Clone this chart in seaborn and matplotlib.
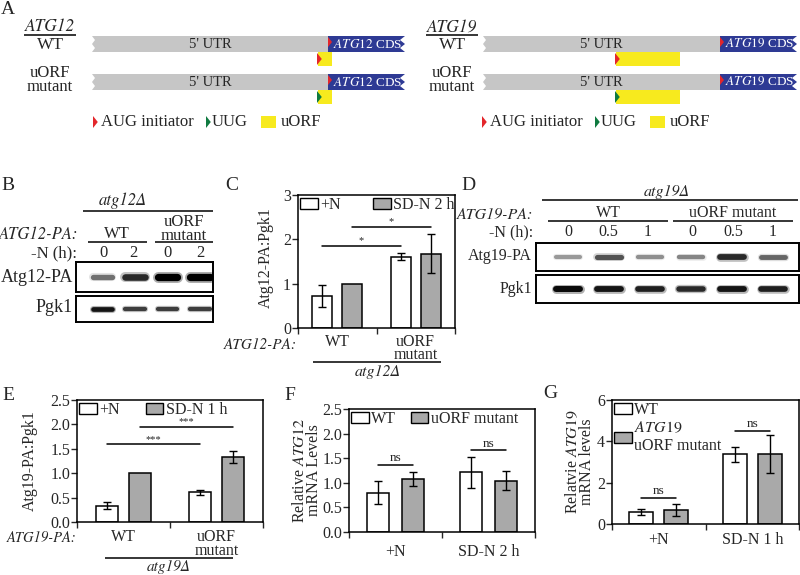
"""
Multi-panel uORF figure (ATG12 / ATG19) redrawn with seaborn + matplotlib.
"""
import matplotlib
matplotlib.use("Agg")
import matplotlib.pyplot as plt
from matplotlib.patches import Patch, Polygon, Rectangle
import pandas as pd
import seaborn as sns

W, H = 800, 575
WHITE = "#ffffff"
GRAY = "#a9a9a9"
NAVY = "#2e3a94"
UTR_GRAY = "#c6c6c6"
YELLOW = "#f7ea1e"
RED = "#e3262b"
GREEN = "#0f7a40"
ITAL = "STIXGeneral"

# ---- panel C: Atg12-PA:Pgk1 ----
C_GROUPS = ["WT", "uORF\nmutant"]
C_HUES = ["+N", "SD-N 2 h"]
C_PLUS_N = [0.72, 1.61]
C_PLUS_N_ERR = [0.25, 0.08]
C_SDN = [1.00, 1.68]
C_SDN_ERR = [0.0, 0.44]

# ---- panel E: Atg19-PA:Pgk1 ----
E_GROUPS = ["WT", "uORF\nmutant"]
E_HUES = ["+N", "SD-N 1 h"]
E_PLUS_N = [0.33, 0.61]
E_PLUS_N_ERR = [0.07, 0.05]
E_SDN = [1.00, 1.33]
E_SDN_ERR = [0.0, 0.12]

# ---- panel F: relative ATG12 mRNA ----
F_GROUPS = ["+N", "SD-N 2 h"]
F_HUES = ["WT", "uORF mutant"]
F_WT = [0.80, 1.21]
F_WT_ERR = [0.24, 0.31]
F_MUT = [1.08, 1.04]
F_MUT_ERR = [0.14, 0.19]

# ---- panel G: relative ATG19 mRNA ----
G_GROUPS = ["+N", "SD-N 1 h"]
G_HUES = ["WT", "$\\it{ATG19}$\nuORF mutant"]
G_WT = [0.60, 3.37]
G_WT_ERR = [0.15, 0.36]
G_MUT = [0.68, 3.39]
G_MUT_ERR = [0.30, 0.92]

# ---- western blot band strength (0..1) per lane ----
B_LANES = ["0", "2", "0", "2"]
B_ATG12 = [0.45, 0.8, 1.0, 1.0]
B_PGK1 = [0.9, 0.7, 0.7, 0.7]
D_LANES = ["0", "0.5", "1", "0", "0.5", "1"]
D_ATG19 = [0.25, 0.6, 0.3, 0.35, 0.8, 0.5]
D_PGK1 = [0.95, 0.9, 0.85, 0.8, 0.9, 0.85]

sns.set_theme(style="ticks")
plt.rcParams["font.family"] = ["Liberation Serif", "STIXGeneral", "DejaVu Serif"]
plt.rcParams["mathtext.fontset"] = "stix"
FS = 11

fig = plt.figure(figsize=(8, 5.75), dpi=100)
ov = fig.add_axes([0, 0, 1, 1])
ov.set_xlim(0, W)
ov.set_ylim(H, 0)
ov.axis("off")


def rect(x0, y0, x1, y1):
    return [x0 / W, 1 - y1 / H, (x1 - x0) / W, (y1 - y0) / H]


def txt(x, y, s, **kw):
    kw.setdefault("fontsize", FS)
    kw.setdefault("ha", "center")
    kw.setdefault("va", "center")
    if kw.get("style") == "italic":
        kw.setdefault("family", ITAL)
    ov.text(x, y, s, **kw)


def hline(x0, x1, y, lw=1.1):
    ov.plot([x0, x1], [y, y], color="black", lw=lw, solid_capstyle="butt")


# ---------------- panel A: schematics ----------------
GENES = ["ATG12", "ATG19"]
LABEL_X = [50, 452]
UTR_START = [92, 483]
CDS_START = [328, 720]
CDS_END = [405, 797]
UORF = [(318, 332), (616, 680)]
ROW_Y = [36, 74]
START_MARK = [RED, GREEN]
LEG_X = [93, 482]


def tri(x, y, h, color):
    ov.add_patch(Polygon([(x, y - h / 2), (x + h * 0.4, y), (x, y + h / 2)],
                         closed=True, color=color, lw=0))


for g, gene in enumerate(GENES):
    lx = LABEL_X[g]
    txt(lx, 27, gene, style="italic", fontsize=12.5)
    hline(lx - 26, lx + 26, 35)
    txt(lx, 45, "WT", fontsize=12.5)
    txt(lx, 80, "uORF\nmutant", fontsize=12, linespacing=0.8)
    for r, y0 in enumerate(ROW_Y):
        xs, cs, ce = UTR_START[g], CDS_START[g], CDS_END[g]
        utr = [(cs, y0), (xs, y0), (xs + 3, y0 + 4), (xs, y0 + 8),
               (xs + 3, y0 + 12), (xs, y0 + 16), (cs, y0 + 16)]
        ov.add_patch(Polygon(utr, closed=True, color=UTR_GRAY, lw=0))
        cds = [(cs, y0), (ce, y0), (ce - 5, y0 + 4), (ce, y0 + 8),
               (ce - 5, y0 + 12), (ce, y0 + 16), (cs, y0 + 16)]
        ov.add_patch(Polygon(cds, closed=True, color=NAVY, lw=0))
        tri(cs, y0 + 6, 10, RED)
        txt((xs + cs) / 2, y0 + 8, "5' UTR", fontsize=10.5)
        txt(cs + 5, y0 + 8, f"$\\it{{{gene}}}$ CDS", color="white",
            fontsize=9.5, ha="left")
        u0, u1 = UORF[g]
        ov.add_patch(Rectangle((u0, y0 + 16), u1 - u0, 14, color=YELLOW, lw=0))
        tri(u0 - 1, y0 + 23, 12, START_MARK[r])
    # legend row
    x = LEG_X[g]
    tri(x, 122, 12, RED)
    txt(x + 8, 122, "AUG initiator", ha="left", fontsize=12)
    tri(x + 113, 122, 12, GREEN)
    txt(x + 119, 122, "UUG", ha="left", fontsize=12)
    ov.add_patch(Rectangle((x + 168, 116), 15, 12, color=YELLOW, lw=0))
    txt(x + 188, 122, "uORF", ha="left", fontsize=12)

txt(8, 9, "A", fontsize=14)


# ---------------- blots ----------------
def blot(box, levels, xlim, band_h):
    ax = fig.add_axes(rect(*box))
    ax.set_xlim(*xlim)
    ax.set_ylim(0, 1)
    ax.set_xticks([])
    ax.set_yticks([])
    for s in ax.spines.values():
        s.set_linewidth(1.4)
        s.set_color("black")
    for i, lv in enumerate(levels):
        lw0 = band_h * (0.55 + 0.5 * lv)
        dark = 0.8 * (1 - lv)
        ax.plot([i - 0.3, i + 0.3], [0.5, 0.5], color=str(min(0.85, dark + 0.35)),
                lw=lw0 * 1.5, alpha=0.5, solid_capstyle="round")
        ax.plot([i - 0.3, i + 0.3], [0.5, 0.5], color=str(dark),
                lw=lw0, solid_capstyle="round")
    return ax


# panel B
txt(8, 185, "B", fontsize=14)
txt(123, 201, "atg12Δ", style="italic", fontsize=12)
hline(83, 213, 211)
txt(78, 235, "ATG12-PA:", style="italic", ha="right", fontsize=12)
txt(117, 234, "WT", fontsize=12)
hline(88, 147, 242)
txt(184, 229, "uORF\nmutant", fontsize=12, linespacing=0.75)
hline(155, 213, 242)
txt(77, 253, "-N (h):", ha="right", fontsize=12)
B_X = [103, 133, 167, 200]
for xx, lab in zip(B_X, B_LANES):
    txt(xx, 253, lab, fontsize=12)
blot((76, 262, 213, 292), B_ATG12, (-0.82, 3.4), 5.0)
blot((76, 296, 213, 322), B_PGK1, (-0.82, 3.4), 3.4)
txt(73, 277, "Atg12-PA", ha="right", fontsize=13)
txt(73, 308, "Pgk1", ha="right", fontsize=13)

# panel D
txt(468, 185, "D", fontsize=14)
txt(667, 192, "atg19Δ", style="italic", fontsize=11.5)
hline(542, 798, 200)
txt(533, 215, "ATG19-PA:", style="italic", ha="right", fontsize=11.5)
txt(608, 213, "WT", fontsize=11.5)
hline(548, 668, 221)
txt(733, 213, "uORF mutant", fontsize=11.5)
hline(673, 793, 221)
txt(533, 232, "-N (h):", ha="right", fontsize=11.5)
D_X = [568, 608, 648, 692, 733, 773]
for xx, lab in zip(D_X, D_LANES):
    txt(xx, 232, lab, fontsize=11.5)
blot((536, 243, 799, 271), D_ATG19, (-0.78, 5.63), 4.4)
blot((536, 275, 799, 303), D_PGK1, (-0.78, 5.63), 4.2)
txt(532, 256, "Atg19-PA", ha="right", fontsize=11.5)
txt(532, 289, "Pgk1", ha="right", fontsize=11.5)


# ---------------- bar panels ----------------
def bar_panel(box, groups, hues, means, errs, ylim, yticks, ylabels,
              width, gap, sigs, leg_ncol, leg_kw, xpad):
    ax = fig.add_axes(rect(*box))
    rows = []
    for h, vals in zip(hues, means):
        for gname, v in zip(groups, vals):
            rows.append({"group": gname, "cond": h, "value": v})
    df = pd.DataFrame(rows)
    sns.barplot(data=df, x="group", y="value", hue="cond", order=groups,
                hue_order=hues, palette=[WHITE, GRAY], saturation=1,
                edgecolor="black", linewidth=1.1, width=width, gap=gap,
                errorbar=None, legend=False, ax=ax)
    bars = sorted(ax.patches, key=lambda p: p.get_x())
    err_flat = [errs[h][gi] for gi in range(len(groups)) for h in range(len(hues))]
    xs = [p.get_x() + p.get_width() / 2 for p in bars]
    for x, p, e in zip(xs, bars, err_flat):
        if e > 0:
            ax.errorbar(x, p.get_height(), yerr=e, fmt="none", ecolor="black",
                        elinewidth=1.0, capsize=3.2, capthick=1.0)
    for a, b, y, s in sigs:
        ax.plot([xs[a], xs[b]], [y, y], color="black", lw=1.1)
        ax.annotate(s, ((xs[a] + xs[b]) / 2, y), xytext=(0, 0.5),
                    textcoords="offset points", ha="center", va="bottom",
                    fontsize=9.5 if s == "ns" else 7.5)
    ax.set_xlim(-0.5, len(groups) - 0.5)
    ax.set_ylim(*ylim)
    ax.set_yticks(yticks)
    ax.set_yticklabels(ylabels, fontsize=FS + 0.5)
    ax.set_xticks(range(len(groups)))
    ax.set_xticklabels(groups, fontsize=FS + 0.5, linespacing=0.8)
    ax.set_xticks([k - 0.5 for k in range(len(groups) + 1)], minor=True)
    ax.tick_params(axis="x", which="major", length=0, pad=xpad)
    ax.tick_params(axis="x", which="minor", length=4, width=1, direction="out")
    ax.tick_params(axis="y", length=4, width=1, direction="out", pad=1)
    ax.set_xlabel("")
    ax.set_ylabel("")
    for s in ax.spines.values():
        s.set_visible(True)
        s.set_linewidth(1.1)
        s.set_color("black")
    handles = [Patch(facecolor=c, edgecolor="black", lw=1.0) for c in (WHITE, GRAY)]
    ax.legend(handles, hues, loc="upper left", ncol=leg_ncol, frameon=False,
              fontsize=FS + 0.5, handlelength=1.1, handleheight=0.7,
              handletextpad=0.15, borderaxespad=0.05, borderpad=0.1,
              **leg_kw)
    return ax


# panel C
txt(232, 185, "C", fontsize=14)
bar_panel((298, 195, 455, 328), C_GROUPS, C_HUES, [C_PLUS_N, C_SDN],
          [C_PLUS_N_ERR, C_SDN_ERR], (0, 3), [0, 1, 2, 3],
          ["0", "1", "2", "3"], 0.76, 0.33,
          [(0, 2, 1.85, "*"), (1, 3, 2.28, "*")], 2,
          {"columnspacing": 2.0, "labelspacing": 0.2}, 4)
txt(266, 258, "Atg12-PA:Pgk1", rotation=90, fontsize=FS + 0.5)
txt(297, 345, "ATG12-PA:", style="italic", ha="right", fontsize=FS)
hline(313, 441, 362)
txt(378, 372, "atg12Δ", style="italic", fontsize=FS + 0.5)

# panel E
txt(8, 395, "E", fontsize=14)
bar_panel((77, 400, 263, 522), E_GROUPS, E_HUES, [E_PLUS_N, E_SDN],
          [E_PLUS_N_ERR, E_SDN_ERR], (0, 2.5), [0, 0.5, 1.0, 1.5, 2.0, 2.5],
          ["0.0", "0.5", "1.0", "1.5", "2.0", "2.5"], 0.71, 0.33,
          [(0, 2, 1.59, "***"), (1, 3, 1.95, "***")], 2,
          {"columnspacing": 1.6, "labelspacing": 0.2}, 5)
txt(30, 461, "Atg19-PA:Pgk1", rotation=90, fontsize=FS + 0.5)
txt(77, 538, "ATG19-PA:", style="italic", ha="right", fontsize=10.5)
hline(105, 233, 558)
txt(169, 567, "atg19Δ", style="italic", fontsize=FS)

# panel F
txt(290, 395, "F", fontsize=14)
bar_panel((349, 409, 535, 532), F_GROUPS, F_HUES, [F_WT, F_MUT],
          [F_WT_ERR, F_MUT_ERR], (0, 2.5), [0, 0.5, 1.0, 1.5, 2.0, 2.5],
          ["0.0", "0.5", "1.0", "1.5", "2.0", "2.5"], 0.74, 0.36,
          [(0, 1, 1.36, "ns"), (2, 3, 1.66, "ns")], 2,
          {"columnspacing": 0.9, "labelspacing": 0.2}, 9)
txt(307, 470, "Relative $\\it{ATG12}$\nmRNA Levels", rotation=90,
    fontsize=FS + 0.5, linespacing=0.85)

# panel G
txt(550, 393, "G", fontsize=14)
bar_panel((612, 400, 799, 524), G_GROUPS, G_HUES, [G_WT, G_MUT],
          [G_WT_ERR, G_MUT_ERR], (0, 6), [0, 2, 4, 6],
          ["0", "2", "4", "6"], 0.75, 0.31,
          [(0, 1, 1.25, "ns"), (2, 3, 4.5, "ns")], 1,
          {"labelspacing": 0.1}, 6)
txt(580, 462, "Relatvie $\\it{ATG19}$\nmRNA levels", rotation=90,
    fontsize=FS + 0.5, linespacing=0.85)

fig.savefig("out.png", dpi=100)
